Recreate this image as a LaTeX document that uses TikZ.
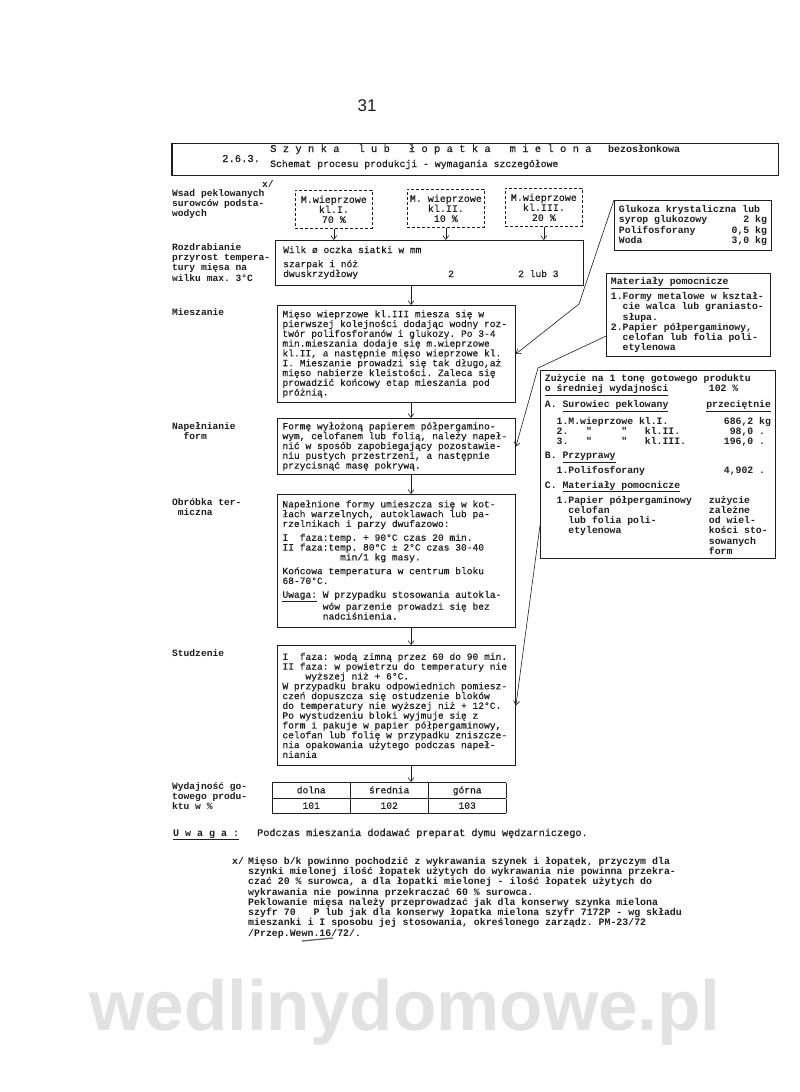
\documentclass[tikz,border=0pt]{standalone}
\usepackage{fontspec}
\setmainfont{Liberation Mono}
\setsansfont{Liberation Sans}
\newfontfamily\twr[FakeBold=0.4]{Liberation Mono}
\newfontfamily\dittofont[Ligatures=TeXOff]{Liberation Mono}
\usetikzlibrary{arrows.meta,positioning,calc}
\definecolor{ink}{HTML}{1E1E1E}
\definecolor{wmark}{HTML}{E2E2E2}
\newcommand{\boxfont}{\twr\fontsize{9.6}{9.8}\selectfont}
\newcommand{\labfont}{\bfseries\fontsize{9.6}{10.4}\selectfont}
\newcommand{\sidefont}{\bfseries\fontsize{9.8}{10.2}\selectfont}
\newcommand{\notefont}{\bfseries\fontsize{9.9}{9}\selectfont}
\newcommand{\amt}[1]{\hfill\makebox[62pt][l]{#1}}
\newcommand{\ditto}{{\dittofont\bfseries"}}

\begin{document}
\begin{tikzpicture}[
  x=1pt, y=-1pt, color=ink,
  >={Straight Barb[length=4pt,width=6pt]},
  mono/.style={execute at begin node={\spaceskip=0.6em\relax\xspaceskip=0.6em\relax}},
  box/.style={mono, draw, line width=0.9pt, anchor=north west, align=left, text width=228pt, inner xsep=5pt, inner ysep=4pt, font=\boxfont},
  raw/.style={mono, draw, densely dashed, line width=0.7pt, anchor=north west, align=center, minimum width=77pt, minimum height=38pt, inner sep=2pt, font=\twr\fontsize{10}{10}\selectfont},
  side/.style={mono, draw, line width=0.9pt, anchor=north west, align=left, inner xsep=4.5pt, inner ysep=4pt, font=\sidefont},
  lab/.style={mono, anchor=north west, align=left, inner sep=0pt, font=\labfont},
  txt/.style={anchor=base west, inner sep=0pt},
  arr/.style={->, line width=0.6pt},
]
\fill[white] (0,0) rectangle (800,1092);
\useasboundingbox (0,0) rectangle (800,1092);

\coordinate (axis) at (411,0);
\coordinate (bendA) at (579,304);
\coordinate (bendB) at (538,368);

% page number and title
\node[anchor=base, font=\sffamily\fontsize{17}{17}\selectfont] (pgno) at (367,111) {31};
\node[draw, line width=0.9pt, anchor=north west, minimum width=606pt, minimum height=32pt] (head) at (172,143) {};
\draw[line width=2pt] (head.north west) -- (head.south west);
\node[txt, font=\twr\fontsize{10.5}{10}\selectfont] (hnum) at (222,162) {2.6.3.};
\node[txt, font=\twr\fontsize{10.5}{10}\selectfont] (htitle) at (270,152) {S z y n k a\ \ \ l u b\ \ \ ł o p a t k a\ \ \ m i e l o n a};
\node[txt, font=\bfseries\fontsize{10}{10}\selectfont] (hkind) at (608,152) {bezosłonkowa};
\node[txt, font=\twr\fontsize{9.8}{10}\selectfont] (hsub) at (270,167) {Schemat procesu produkcji - wymagania szczegółowe};

% left column
\node[lab] (xmark) at (262,180) {x/};
\node[lab] (lwsad) at (172,189) {Wsad peklowanych\\surowców podsta-\\wodych};
\node[lab] (lrozd) at (172,243) {Rozdrabianie\\przyrost tempera-\\tury mięsa na\\wilku max. 3°C};
\node[lab] (lmix) at (172,308) {Mieszanie};
\node[lab] (lfill) at (172,422) {Napełnianie\\\phantom{Na}form};
\node[lab] (lheat) at (172,498) {Obróbka ter-\\\phantom{O}miczna};
\node[lab] (lcool) at (172,649) {Studzenie};
\node[lab] (lyield) at (172,782) {Wydajność go-\\towego produ-\\ktu w \%};

% raw materials
\node[raw] (m1) at (295,190) {M.wieprzowe\\kl.I.\\70 \%};
\node[raw] (m2) at (407,189) {M. wieprzowe\\kl.II.\\10 \%};
\node[raw] (m3) at (505,188) {M.wieprzowe\\kl.III.\\20 \%};

\node[draw, line width=0.9pt, anchor=north west, minimum width=308pt, minimum height=45pt] (wilk) at (275,240) {};
\node[txt, font=\boxfont] (wilktxt) at (283,253) {Wilk ø oczka siatki w mm};
\node[mono, anchor=north west, align=left, inner sep=0pt, font=\boxfont] (wilkdev) at (283,260) {szarpak i nóż\\dwuskrzydłowy};
\node[txt, font=\boxfont] (wilk2) at (448,277) {2};
\node[txt, font=\boxfont] (wilk3) at (518,277) {2 lub 3};

% process steps
\node[box, minimum height=97pt] (mix) at (277,305) {Mięso wieprzowe kl.III miesza się w\\
pierwszej kolejności dodając wodny roz-\\
twór polifosforanów i glukozy. Po 3-4\\
min.mieszania dodaje się m.wieprzowe\\
kl.II, a następnie mięso wieprzowe kl.\\
I. Mieszanie prowadzi się tak długo,aż\\
mięso nabierze kleistości. Zaleca się\\
prowadzić końcowy etap mieszania pod\\
próżnią.};

\node[box, minimum height=54pt] (fill) at (277,418) {Formę wyłożoną papierem półpergamino-\\
wym, celofanem lub folią, należy napeł-\\
nić w sposób zapobiegający pozostawie-\\
niu pustych przestrzeni, a następnie\\
przycisnąć masę pokrywą.};

\node[box, minimum height=133pt] (heat) at (277,494) {Napełnione formy umieszcza się w kot-\\
łach warzelnych, autoklawach lub pa-\\
rzelnikach i parzy dwufazowo:\\[4pt]
I\ \ faza:temp. + 90°C czas 20 min.\\
II faza:temp. 80°C ± 2°C czas 30-40\\
\phantom{II faza:te}min/1 kg masy.\\[4pt]
Końcowa temperatura w centrum bloku\\
68-70°C.\\[4pt]
\underline{Uwaga:} W przypadku stosowania autokla-\\
\phantom{Uwaga: }wów parzenie prowadzi się bez\\
\phantom{Uwaga: }nadciśnienia.};

\node[box, minimum height=120pt] (cool) at (277,645) {I\ \ faza: wodą zimną przez 60 do 90 min.\\
II faza: w powietrzu do temperatury nie\\
\phantom{II f}wyższej niż + 6°C.\\
W przypadku braku odpowiednich pomiesz-\\
czeń dopuszcza się ostudzenie bloków\\
do temperatury nie wyższej niż + 12°C.\\
Po wystudzeniu bloki wyjmuje się z\\
form i pakuje w papier półpergaminowy,\\
celofan lub folię w przypadku zniszcze-\\
nia opakowania użytego podczas napeł-\\
niania};

\node[anchor=north west, inner sep=0pt, font=\boxfont] (yield) at (272,782) {\renewcommand{\arraystretch}{1.5}\setlength{\arrayrulewidth}{0.8pt}%
\begin{tabular}{|c|c|c|}\hline
\makebox[66pt]{dolna} & \makebox[66pt]{średnia} & \makebox[66pt]{górna}\\\hline
101 & 102 & 103\\\hline
\end{tabular}};

% side boxes
\node[side, text width=148pt, minimum height=50pt] (gluk) at (614,200) {Glukoza krystaliczna lub\\
syrop glukozowy\hfill 2 kg\\
Polifosforany\hfill 0,5 kg\\
Woda\hfill 3,0 kg};

\node[side, text width=155pt, minimum height=74pt] (mat) at (606,273) {\underline{Materiały pomocnicze}\\[3pt]
1.Formy metalowe w kształ-\\
\phantom{1.}cie walca lub graniasto-\\
\phantom{1.}słupa.\\
2.Papier półpergaminowy,\\
\phantom{2.}celofan lub folia poli-\\
\phantom{2.}etylenowa};

\node[side, text width=226pt, minimum height=187pt] (zuz) at (540,370) {Zużycie na 1 tonę gotowego produktu\\
\underline{o średniej wydajności}\amt{102 \%}\\[4pt]
A. \underline{Surowiec peklowany}\hfill\underline{przeciętnie}\\[4pt]
\phantom{A.}1.M.wieprzowe kl.I.\hfill 686,2 kg\\
\phantom{A.}2.\ \ \ \ditto\ \ \ \ \ \ditto\ \ \ kl.II.\hfill 98,0 .\phantom{g}\\
\phantom{A.}3.\ \ \ \ditto\ \ \ \ \ \ditto\ \ \ kl.III.\hfill 196,0 .\phantom{g}\\[4pt]
B. \underline{Przyprawy}\\[3pt]
\phantom{A.}1.Polifosforany\hfill 4,902 .\phantom{g}\\[4pt]
C. \underline{Materiały pomocnicze}\\[3pt]
\phantom{A.}1.Papier półpergaminowy\amt{zużycie}\\
\phantom{A.1.}celofan\amt{zależne}\\
\phantom{A.1.}lub folia poli-\amt{od wiel-}\\
\phantom{A.1.}etylenowa\amt{kości sto-}\\
\mbox{}\amt{sowanych}\\
\mbox{}\amt{form}};

% connectors
\draw[arr] (m1.south) -- (m1.south |- wilk.north);
\draw[arr] (m2.south) -- (m2.south |- wilk.north);
\draw[arr] (m3.south) -- (m3.south |- wilk.north);
\draw[arr] (wilk.south -| axis) -- (mix.north -| axis);
\draw[arr] (mix.south -| axis) -- (fill.north -| axis);
\draw[arr] (fill.south -| axis) -- (heat.north -| axis);
\draw[arr] (heat.south -| axis) -- (cool.north -| axis);
\draw[arr] (cool.south -| axis) -- (yield.north -| axis);
\draw[arr] (gluk.north west) -- (bendA) -- (mix.east);
\draw[arr] ([yshift=-21pt]mat.west) -- (bendB) -- (fill.east);
\draw[arr] ([yshift=-61pt]zuz.west) -- (cool.east);

% notes
\node[txt, font=\bfseries\fontsize{10}{10}\selectfont] (uw) at (173,836) {\underline{U\ w\ a\ g\ a\ :}};
\node[txt, font=\twr\fontsize{10.2}{10}\selectfont] (uwtxt) at (257,836) {Podczas mieszania dodawać preparat dymu wędzarniczego.};
\node[anchor=north west, inner sep=0pt, font=\notefont] (fnmark) at (232,857) {x/};
\node[mono, anchor=north west, align=left, inner sep=0pt, font=\notefont] (fntxt) at (248,857) {Mięso b/k powinno pochodzić z wykrawania szynek i łopatek, przyczym dla\\
szynki mielonej ilość łopatek użytych do wykrawania nie powinna przekra-\\
czać 20 \% surowca, a dla łopatki mielonej - ilość łopatek użytych do\\
wykrawania nie powinna przekraczać 60 \% surowca.\\
Peklowanie mięsa należy przeprowadzać jak dla konserwy szynka mielona\\
szyfr 70\ \ \ P lub jak dla konserwy łopatka mielona szyfr 7172P - wg składu\\
mieszanki i I sposobu jej stosowania, określonego zarządz. PM-23/72\\
/Przep.Wewn.16/72/.};
\draw[line width=1.3pt, ink!70] (302,941) -- (333,938);

\node[font=\sffamily\bfseries\fontsize{71}{71}\selectfont, text=wmark] (wm) at (405,1012) {wedlinydomowe.pl};
\end{tikzpicture}
\end{document}
